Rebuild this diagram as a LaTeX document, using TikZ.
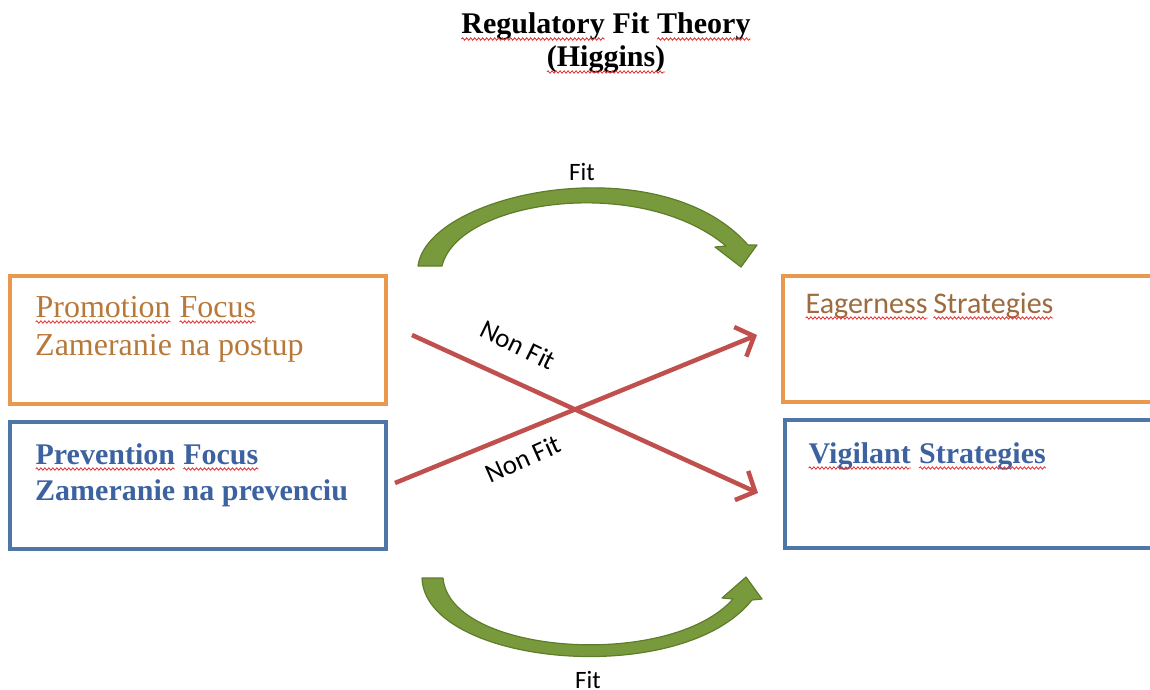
\documentclass[tikz,border=0pt]{standalone}
\usepackage{fontspec}
\setmainfont{Liberation Serif}
\newfontfamily\calib{Carlito}
\usetikzlibrary{arrows.meta,decorations.pathmorphing}
\definecolor{boxorange}{HTML}{E9994E}
\definecolor{boxblue}{HTML}{4E76A8}
\definecolor{txtorange}{HTML}{B8783A}
\definecolor{txtbrown}{HTML}{9C6B3F}
\definecolor{txtblue}{HTML}{3D62A0}
\definecolor{nfred}{HTML}{C0504D}
\definecolor{spellred}{HTML}{E03030}
\definecolor{gfill}{HTML}{799A3C}
\definecolor{gdraw}{HTML}{5E7D2B}
\newcommand\spw[1]{\tikz[baseline=(w.base)]{\node[anchor=base west, inner sep=0pt, outer sep=0pt] (w) at (0,0) {#1};
  \draw[spellred, line width=0.8pt, decorate, decoration={snake, amplitude=1.2pt, segment length=4pt}] ([yshift=-5pt]w.base west) -- ([yshift=-5pt]w.base east);}}
\tikzset{
  obox/.style={draw=boxorange, line width=4pt, rectangle},
  bbox/.style={draw=boxblue, line width=4pt, rectangle},
  serifA/.style={anchor=base west, inner sep=0pt, font=\fontsize{32}{38}\selectfont},
  serifB/.style={anchor=base west, inner sep=0pt, font=\bfseries\fontsize{30}{36}\selectfont},
  lbl/.style={inner sep=0pt, font=\calib\fontsize{25}{30}\selectfont},
  nflbl/.style={inner sep=0pt, font=\calib\fontsize{27}{32}\selectfont},
  nonfit/.style={draw=nfred, line width=4.5pt, -{Straight Barb[length=15pt,width=32pt]}},
  greenarrow/.style={fill=gfill, draw=gdraw, line width=1.2pt, line join=round}
}
\begin{document}
\begin{tikzpicture}[x=1pt,y=-1pt]
\useasboundingbox (0,0) rectangle (1150,690);
\clip (0,0) rectangle (1150,690);
% title
\node[anchor=base, inner sep=0pt, font=\bfseries\fontsize{30}{34}\selectfont] (title1) at (606,34) {\spw{Regulatory} Fit \spw{Theory}};
\node[anchor=base, inner sep=0pt, font=\bfseries\fontsize{30}{34}\selectfont] (title2) at (606,67) {\spw{(Higgins)}};
% boxes
\node[obox, minimum width=376pt, minimum height=128pt] (promo) at (198,340) {};
\node[bbox, minimum width=376pt, minimum height=127pt] (prev) at (198,485.5) {};
\node[obox, minimum width=377pt, minimum height=126pt] (eager) at (971.5,339) {};
\node[bbox, minimum width=375pt, minimum height=128pt] (vigil) at (972.5,484) {};
% box texts
\node[serifA, text=txtorange] (promT1) at (35,317) {\spw{Promotion} \spw{Focus}};
\node[serifA, text=txtorange] (promT2) at (35,355) {Zameranie na postup};
\node[serifB, text=txtblue] (prevT1) at (35,464) {\spw{Prevention} \spw{Focus}};
\node[serifB, text=txtblue] (prevT2) at (35,500) {Zameranie na prevenciu};
\node[anchor=base west, inner sep=0pt, font=\calib\fontsize{30}{36}\selectfont, text=txtbrown] (eagT) at (805,313) {\spw{Eagerness}\,\spw{Strategies}};
\node[serifB, text=txtblue] (vigT) at (808,463) {\spw{Vigilant} \spw{Strategies}};
% green fit arrows
\path[greenarrow] (418,266) .. controls (428,192) and (660,145) .. (748,245)
  -- (757,245) -- (741,267) -- (715,247) -- (726,246)
  .. controls (640,174) and (458,200) .. (442,266) -- cycle;
\path[greenarrow] (422,578) .. controls (425,665) and (680,690) .. (752,600)
  -- (762,599) -- (746,577) -- (722,598) -- (733,599)
  .. controls (670,670) and (450,655) .. (443,578) -- cycle;
\node[lbl] (fitTop) at (582,172) {Fit};
\node[lbl] (fitBot) at (588,680) {Fit};
% non-fit arrows
\coordinate (pA) at (412,335);
\coordinate (eA) at (758,493);
\coordinate (pB) at (395,483);
\coordinate (eB) at (757,335);
\draw[nonfit] (pA) -- (eA);
\draw[nonfit] (pB) -- (eB);
\node[nflbl, rotate=-26] (nf1) at (518,345) {Non Fit};
\node[nflbl, rotate=24] (nf2) at (523,459) {Non Fit};
\end{tikzpicture}
\end{document}
